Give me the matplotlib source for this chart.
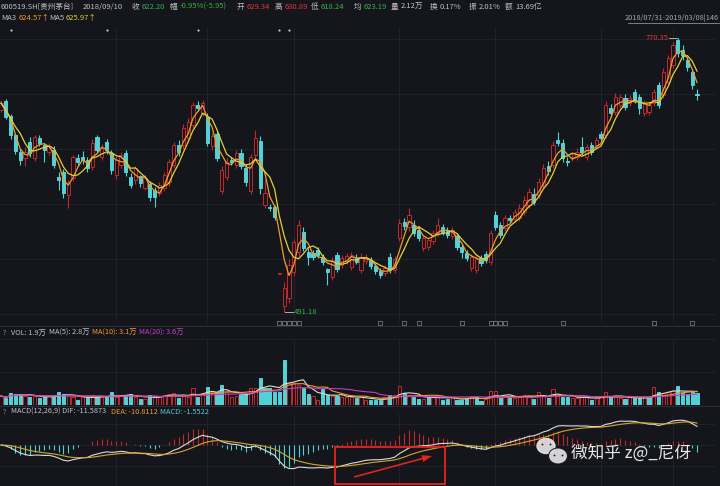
import numpy as np
import pandas as pd
import matplotlib
matplotlib.use("Agg")
import matplotlib.pyplot as plt
from matplotlib.patches import Rectangle, Ellipse, FancyArrow

plt.rcParams['font.family'] = ['Noto Sans CJK SC', 'DejaVu Sans']

# daily bars 2018/07/31 - 2019/03/08 (146 bars)
opens = [697, 706, 691, 671, 654, 648, 664, 648, 668, 661,
         654, 656, 629, 634, 610, 628, 648, 649, 646, 639,
         669, 649, 664, 653, 631, 641, 653, 629, 626, 629.34,
         618, 622, 615, 612, 617, 624, 641, 661, 661, 668,
         682, 702, 694, 690, 660, 673, 614, 629, 646, 641,
         653, 638, 614, 651, 665, 600, 598, 598, 529.9, 497,
         505, 532, 552, 573, 552, 551, 554, 547, 535, 527,
         549, 539, 543, 537, 546, 534, 543, 544, 538, 533,
         531, 547, 534, 567, 583, 578, 580, 575, 556, 557,
         563, 572, 578, 575, 569, 569, 557, 551, 536, 534,
         546, 550, 542, 590, 580, 577, 587, 586, 587, 593,
         600, 611, 610, 621, 640, 641, 666, 663, 645, 648,
         649, 659, 649, 661, 661, 673, 671, 699, 695, 702,
         709, 704, 715, 710, 694, 695, 704, 722, 712, 726,
         743, 768, 758, 748, 736, 713]
closes = [704, 690, 671, 655, 646, 654, 653, 669, 663, 656,
          660, 641, 626, 612, 623, 649, 644, 646, 638, 663,
          656, 658, 656, 636, 646, 651, 634, 621, 638, 622.20,
          628, 608, 608, 621, 631, 644, 661, 654, 679, 685,
          702, 699, 704, 663, 670, 648, 636, 644, 644, 653,
          640, 624, 649, 668, 617, 612, 597, 588, 529.9, 516,
          539, 562, 580, 556, 547, 547, 549, 542, 532, 544,
          535, 546, 548, 549, 542, 547, 547, 538, 533, 529,
          536, 534, 545, 582, 579, 590, 572, 567, 567, 564,
          572, 580, 573, 570, 575, 557, 552, 546, 547, 545,
          541, 544, 572, 578, 570, 587, 585, 593, 597, 605,
          613, 603, 624, 638, 635, 661, 663, 648, 644, 649,
          654, 654, 659, 654, 666, 668, 702, 694, 710, 710,
          700, 709, 707, 699, 704, 702, 715, 702, 736, 750,
          763, 755, 753, 741, 722, 712]
highs = [707, 708, 693, 674, 657, 659, 669, 671, 672, 663,
         663, 660, 634, 637, 626, 651, 652, 655, 649, 667,
         671, 662, 667, 656, 650, 654, 656, 633, 640, 630.89,
         631, 625, 619, 624, 634, 647, 664, 666, 683, 689,
         705, 706, 707, 694, 674, 676, 640, 648, 649, 656,
         657, 642, 652, 677, 670, 627, 601, 600, 529.9, 522,
         545, 566, 585, 578, 556, 554, 557, 550, 536, 547,
         552, 549, 551, 552, 550, 551, 550, 547, 541, 536,
         539, 551, 548, 586, 587, 597, 585, 579, 570, 567,
         575, 587, 581, 578, 578, 572, 560, 554, 550, 548,
         549, 553, 575, 594, 583, 590, 590, 596, 601, 609,
         617, 617, 628, 642, 645, 665, 675, 667, 649, 653,
         658, 669, 662, 664, 669, 676, 706, 703, 714, 713,
         713, 712, 718, 713, 707, 705, 718, 726, 740, 753,
         766, 770.35, 763, 751, 739, 718]
lows = [695, 688, 667, 652, 641, 640, 649, 645, 660, 644,
        651, 638, 615, 607, 597, 625, 640, 642, 634, 636,
        653, 646, 652, 632, 627, 638, 630, 617, 622, 618.24,
        615, 604, 598, 609, 614, 620, 638, 650, 657, 664,
        679, 696, 691, 660, 656, 645, 611, 626, 641, 638,
        637, 620, 611, 648, 611, 597, 594, 585, 529.9, 491.18,
        500, 528, 548, 553, 539, 544, 546, 539, 519, 524,
        532, 536, 540, 534, 540, 531, 540, 535, 530, 526,
        528, 531, 531, 563, 575, 574, 569, 563, 553, 554,
        560, 569, 570, 567, 566, 554, 546, 543, 533, 531,
        538, 541, 539, 575, 567, 574, 582, 583, 584, 590,
        597, 600, 607, 618, 631, 638, 660, 644, 640, 645,
        646, 651, 646, 651, 657, 664, 668, 690, 692, 699,
        697, 701, 704, 693, 691, 692, 701, 699, 709, 723,
        740, 751, 748, 737, 718, 707]
# volume in 万手
vols = [3.0, 2.2, 4.0, 3.7, 3.7, 3.0, 2.7, 3.0, 2.3, 2.7,
        3.0, 2.7, 4.3, 3.7, 3.3, 2.7, 1.7, 2.7, 2.3, 3.3,
        2.7, 2.7, 2.7, 4.3, 2.7, 3.0, 3.3, 3.7, 2.7, 1.9,
        2.0, 3.3, 2.7, 3.0, 3.3, 3.7, 4.0, 2.3, 3.3, 2.7,
        5.7, 2.7, 4.0, 6.0, 4.3, 4.3, 6.7, 4.3, 2.7, 3.0,
        3.7, 3.7, 5.7, 5.7, 9.0, 5.7, 5.7, 4.3, 4.3, 15.0,
        7.3, 7.3, 6.7, 5.7, 3.7, 3.0, 1.7, 5.3, 3.3, 3.0,
        3.0, 2.7, 2.7, 2.7, 2.3, 2.7, 1.7, 1.7, 1.7, 1.7,
        2.7, 3.3, 3.3, 6.3, 4.0, 3.3, 2.7, 2.0, 2.0, 2.7,
        3.0, 2.7, 1.7, 2.0, 2.7, 1.7, 1.7, 2.3, 3.0, 2.7,
        1.3, 2.0, 4.7, 4.7, 2.3, 2.7, 2.7, 2.3, 3.0, 3.3,
        2.7, 2.0, 4.3, 3.3, 2.3, 5.3, 3.0, 2.7, 2.7, 2.3,
        2.3, 2.7, 2.7, 1.7, 2.3, 2.7, 4.3, 2.7, 3.0, 2.3,
        2.0, 2.7, 2.3, 2.3, 2.3, 2.7, 6.0, 4.3, 4.0, 4.3,
        4.7, 6.3, 4.0, 3.7, 4.3, 4.0]

month_starts = [24, 43, 61, 83, 103, 125, 140]
price_grid = [489, 545, 601, 657, 713, 769]
top_marks = [2, 22, 41, 58, 60]
bottom_marks = [58, 59, 60, 61, 62, 79, 84, 87, 96, 102, 103, 104, 105, 117, 136, 144]
hi_idx, hi_val = 141, 770.35
lo_idx, lo_val = 59, 491.18

BG = '#14161b'
UP = '#c02a2c'
DN = '#52d2d6'
GRID = '#22252d'
LBL = '#c0c0c0'
GREEN = '#36b24a'
RED = '#e0343a'
ORANGE = '#f09a2c'
YELLOW = '#e2d03a'
MAGENTA = '#c43cc8'
WHITE = '#dcdcdc'

W, H = 720, 486
fig = plt.figure(figsize=(7.2, 4.86), dpi=100, facecolor=BG)


def px_axes(x0, y0, x1, y1):
    ax = fig.add_axes([x0 / W, 1 - y1 / H, (x1 - x0) / W, (y1 - y0) / H])
    ax.set_facecolor(BG)
    ax.set_axis_off()
    ax.set_xlim(-1 / 4.8, (x1 - 1) / 4.8)
    return ax


idx = np.arange(len(closes))
o = np.array(opens)
c = np.array(closes)
up = c >= o
col = np.where(up, UP, DN)
fill = np.where(up, BG, DN)
# volume bars are coloured against the previous close
prev = np.concatenate([[o[0]], c[:-1]])
vup = c >= prev
vcol = np.where(vup, UP, DN)
vfill = np.where(vup, BG, DN)

# ---- price panel
ax = px_axes(0, 28, 715, 322)
ax.set_ylim(480.95, 780.54)
for g in price_grid:
    ax.axhline(g, color=GRID, lw=0.6, zorder=0)
for m in month_starts:
    ax.axvline(m, color=GRID, lw=0.6, zorder=0)
ax.vlines(idx, lows, highs, colors=col, lw=0.8, zorder=2)
ax.bar(idx, np.maximum(np.abs(c - o), 0.6), bottom=np.minimum(o, c), width=0.7,
       color=fill, edgecolor=col, linewidth=0.7, zorder=3)
cs = pd.Series(c)
ax.plot(idx, cs.rolling(3, min_periods=1).mean(), color=ORANGE, lw=0.9, zorder=4)
ax.plot(idx, cs.rolling(5, min_periods=1).mean(), color=YELLOW, lw=0.9, zorder=4)
ax.plot([hi_idx - 1.9, hi_idx - 0.2], [hi_val, hi_val], color='#c8c8c8', lw=0.6)
ax.text(hi_idx - 2.0, hi_val, '770.35', color=RED, fontsize=5.5, ha='right', va='center')
ax.plot([lo_idx + 0.2, lo_idx + 1.9], [lo_val, lo_val], color='#c8c8c8', lw=0.6)
ax.text(lo_idx + 2.0, lo_val, '491.18', color=GREEN, fontsize=5.5, ha='left', va='center')

# ---- volume panel
axv = px_axes(0, 339, 715, 405)
axv.set_ylim(0, 22)
for g in [11, 22]:
    axv.axhline(g, color=GRID, lw=0.6, zorder=0)
for m in month_starts:
    axv.axvline(m, color=GRID, lw=0.6, zorder=0)
axv.bar(idx, vols, width=0.7, color=vfill, edgecolor=vcol, linewidth=0.7, zorder=2)
vs = pd.Series(vols)
axv.plot(idx, vs.rolling(5, min_periods=1).mean(), color=WHITE, lw=0.8, zorder=3)
axv.plot(idx, vs.rolling(10, min_periods=1).mean(), color=ORANGE, lw=0.8, zorder=3)
axv.plot(idx, vs.rolling(20, min_periods=1).mean(), color=MAGENTA, lw=0.8, zorder=3)

# ---- MACD panel
axm = px_axes(0, 414, 715, 486)
axm.set_ylim(-49.2, 37.2)
ema12 = cs.ewm(span=12, adjust=False).mean()
ema26 = cs.ewm(span=26, adjust=False).mean()
dif = ema12 - ema26
dea = dif.ewm(span=9, adjust=False).mean()
hist = 2 * (dif - dea)
for g in [-25, 0, 25]:
    axm.axhline(g, color=GRID, lw=0.6, zorder=0)
for m in month_starts:
    axm.axvline(m, color=GRID, lw=0.6, zorder=0)
axm.vlines(idx, 0, hist, colors=np.where(hist >= 0, UP, DN), lw=0.8, zorder=2)
axm.plot(idx, dif, color=WHITE, lw=0.8, zorder=3)
axm.plot(idx, dea, color='#d4a62a', lw=0.8, zorder=3)

# ---- overlay in pixel coordinates for text and annotations
ov = fig.add_axes([0, 0, 1, 1], zorder=10)
ov.set_xlim(0, W)
ov.set_ylim(H, 0)
ov.set_axis_off()
ov.patch.set_alpha(0)

fs = 5.5
row1 = [(1, '600519.SH[贵州茅台]', LBL), (83, '2018/09/10', LBL), (132, '收', LBL),
        (142, '622.20', GREEN), (170, '幅', LBL), (180, '-0.95%(-5.95)', GREEN),
        (237, '开', LBL), (247, '629.34', RED), (275, '高', LBL), (285, '630.89', RED),
        (311, '低', LBL), (321, '618.24', GREEN), (354, '均', LBL), (364, '623.19', GREEN),
        (391, '量', LBL), (401, '2.12万', LBL), (430, '换', LBL), (440, '0.17%', LBL),
        (469, '振', LBL), (479, '2.01%', LBL), (505, '额', LBL), (515, '13.69亿', LBL)]
for x, s, cc in row1:
    ov.text(x, 7, s, color=cc, fontsize=fs, ha='left', va='center')
row2 = [(1, 'MA3', LBL), (19, '624.57↑', ORANGE), (49, 'MA5', LBL), (66, '625.97↑', YELLOW)]
for x, s, cc in row2:
    ov.text(x, 18, s, color=cc, fontsize=fs, ha='left', va='center')
ov.text(719, 18, '2018/07/31-2019/03/08|146', color='#a8a8a8', fontsize=5.3, ha='right', va='center')
ov.plot([628, 719], [23.5, 23.5], color='#a8a8a8', lw=0.5)

for t in top_marks:
    ov.plot(1 + 4.8 * t, 30, marker='o', ms=1.6, color='#c8c8c8', mec='none')
for t in bottom_marks:
    ov.plot(1 + 4.8 * t, 323, marker='s', ms=2.2, mfc='none', mec='#8a8a8a', mew=0.5)

# panel separators
ov.plot([0, W], [326, 326], color='#2a2d35', lw=0.8)
ov.plot([0, W], [405.5, 405.5], color='#2a2d35', lw=0.8)

fs2 = 5.3
vol_lbl = [(11, 'VOL: 1.9万', LBL), (49, 'MA(5): 2.8万', LBL),
           (92, 'MA(10): 3.1万', ORANGE), (139, 'MA(20): 3.6万', MAGENTA)]
ov.text(4, 333, '?', color='#888888', fontsize=5, ha='center', va='center')
for x, s, cc in vol_lbl:
    ov.text(x, 333, s, color=cc, fontsize=fs2, ha='left', va='center')
macd_lbl = [(11, 'MACD(12,26,9) DIF: -11.5873', LBL), (111, 'DEA: -10.8112', ORANGE),
            (160, 'MACD: -1.5522', '#54c8d8')]
ov.text(4, 412, '?', color='#888888', fontsize=5, ha='center', va='center')
for x, s, cc in macd_lbl:
    ov.text(x, 412, s, color=cc, fontsize=fs2, ha='left', va='center')

# red annotation
ov.add_patch(Rectangle((335, 447), 110, 37, fill=False, ec='#e8231f', lw=1.3))
ov.add_patch(FancyArrow(354, 477, 78, -21, width=1.6, head_width=7, head_length=10,
                        length_includes_head=True, color='#e8231f', lw=0))

# watermark
ov.add_patch(Ellipse((546, 446), 18, 15, color='#e8e8e8', alpha=0.9))
ov.add_patch(Ellipse((558, 456), 19, 16, color='#e8e8e8', alpha=0.9, ec=BG, lw=0.8))
for px, py in [(542, 444), (550, 444), (554, 455), (562, 455)]:
    ov.plot(px, py, marker='o', ms=1.3, color=BG, mec='none')
ov.text(571, 453, '微知乎 z@_尼伢', color='white', fontsize=12, ha='left', va='center', alpha=0.9)

fig.savefig('out.png', dpi=100, facecolor=BG)
